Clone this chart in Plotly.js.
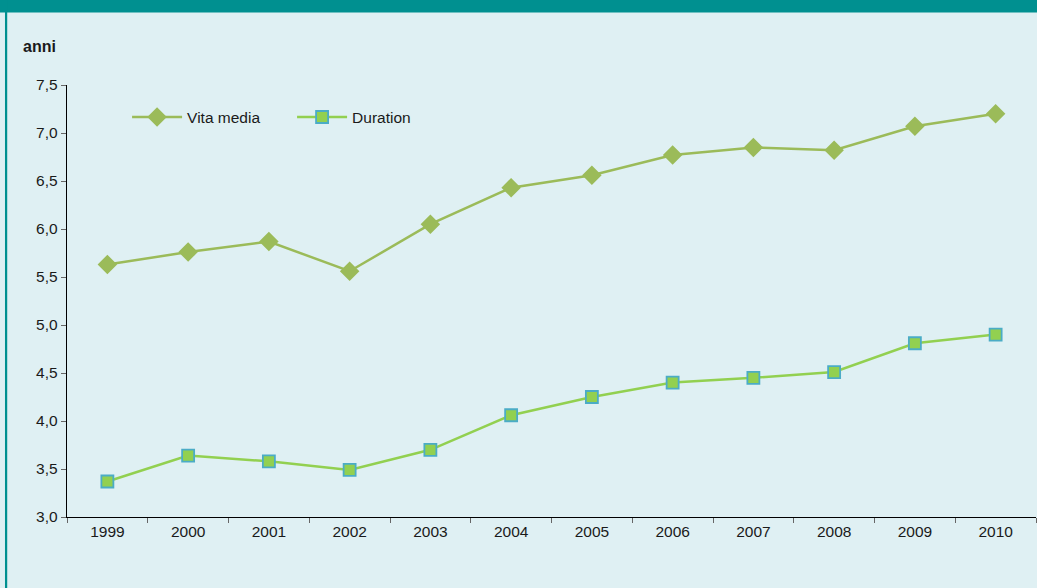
<!DOCTYPE html>
<html>
<head>
<meta charset="utf-8">
<script src="https://cdn.plot.ly/plotly-3.0.1.min.js"></script>
<style>html,body{margin:0;padding:0;background:#dff0f3;}#chart{width:1037px;height:588px;}</style>
</head>
<body>
<div id="chart"></div>
<script>
const years = ['1999','2000','2001','2002','2003','2004','2005','2006','2007','2008','2009','2010'];
const vitaMedia = [5.63, 5.76, 5.87, 5.56, 6.05, 6.43, 6.56, 6.77, 6.85, 6.82, 7.07, 7.20];
const duration = [3.37, 3.64, 3.58, 3.49, 3.70, 4.06, 4.25, 4.40, 4.45, 4.51, 4.81, 4.90];
const yTicks = [3.0, 3.5, 4.0, 4.5, 5.0, 5.5, 6.0, 6.5, 7.0, 7.5];

const traces = [
  {
    x: years, y: vitaMedia, name: 'Vita media', type: 'scatter', mode: 'lines+markers',
    line: {color: '#9bbb59', width: 2.5},
    marker: {symbol: 'diamond', size: 15, color: '#9bbb59'}
  },
  {
    x: years, y: duration, name: 'Duration', type: 'scatter', mode: 'lines+markers',
    line: {color: '#92d050', width: 2.5},
    marker: {symbol: 'square', size: 12, color: '#92d050', line: {color: '#4bacc6', width: 1.8}}
  }
];

const layout = {
  width: 1037, height: 588,
  margin: {l: 67, r: 1, t: 85, b: 71},
  paper_bgcolor: '#dff0f3', plot_bgcolor: '#dff0f3',
  font: {family: 'Liberation Sans, Arial, sans-serif', size: 15.5, color: '#1a1a1a'},
  separators: ',.',
  showlegend: true,
  hovermode: false,
  legend: {orientation: 'h', x: 0.062, xanchor: 'left', y: 0.925, yanchor: 'middle',
           bgcolor: 'rgba(0,0,0,0)', font: {size: 15.5}, itemwidth: 50,
           entrywidth: 100, entrywidthmode: 'pixels'},
  xaxis: {
    type: 'category', range: [-0.5, 11.5], tickson: 'boundaries',
    showline: true, linecolor: '#000', linewidth: 1.3,
    ticks: 'outside', ticklen: 5, tickcolor: '#666', tickwidth: 1,
    showgrid: false, zeroline: false, fixedrange: true,
    tickfont: {size: 15.5}
  },
  yaxis: {
    range: [3, 7.5], tickvals: yTicks, tickformat: '.1f',
    showline: true, linecolor: '#000', linewidth: 1.3,
    ticks: 'outside', ticklen: 5, tickcolor: '#666', tickwidth: 1,
    showgrid: false, zeroline: false, fixedrange: true,
    tickfont: {size: 15.5}
  },
  annotations: [
    {text: '<b>anni</b>', xref: 'paper', yref: 'paper', x: -0.047, y: 1.088,
     xanchor: 'left', yanchor: 'middle', showarrow: false, font: {size: 16, color: '#1a1a1a'}}
  ],
  shapes: [
    {type: 'rect', xref: 'paper', yref: 'paper', x0: -0.1, x1: 1.1, y0: 1.168, y1: 1.3,
     fillcolor: '#009090', line: {width: 0}, layer: 'above'},
    {type: 'rect', xref: 'paper', yref: 'paper', x0: -0.064, x1: -0.0617, y0: -0.3, y1: 1.3,
     fillcolor: '#009090', line: {width: 0}, layer: 'above'}
  ]
};

Plotly.newPlot('chart', traces, layout, {displayModeBar: false, staticPlot: true});
</script>
</body>
</html>
